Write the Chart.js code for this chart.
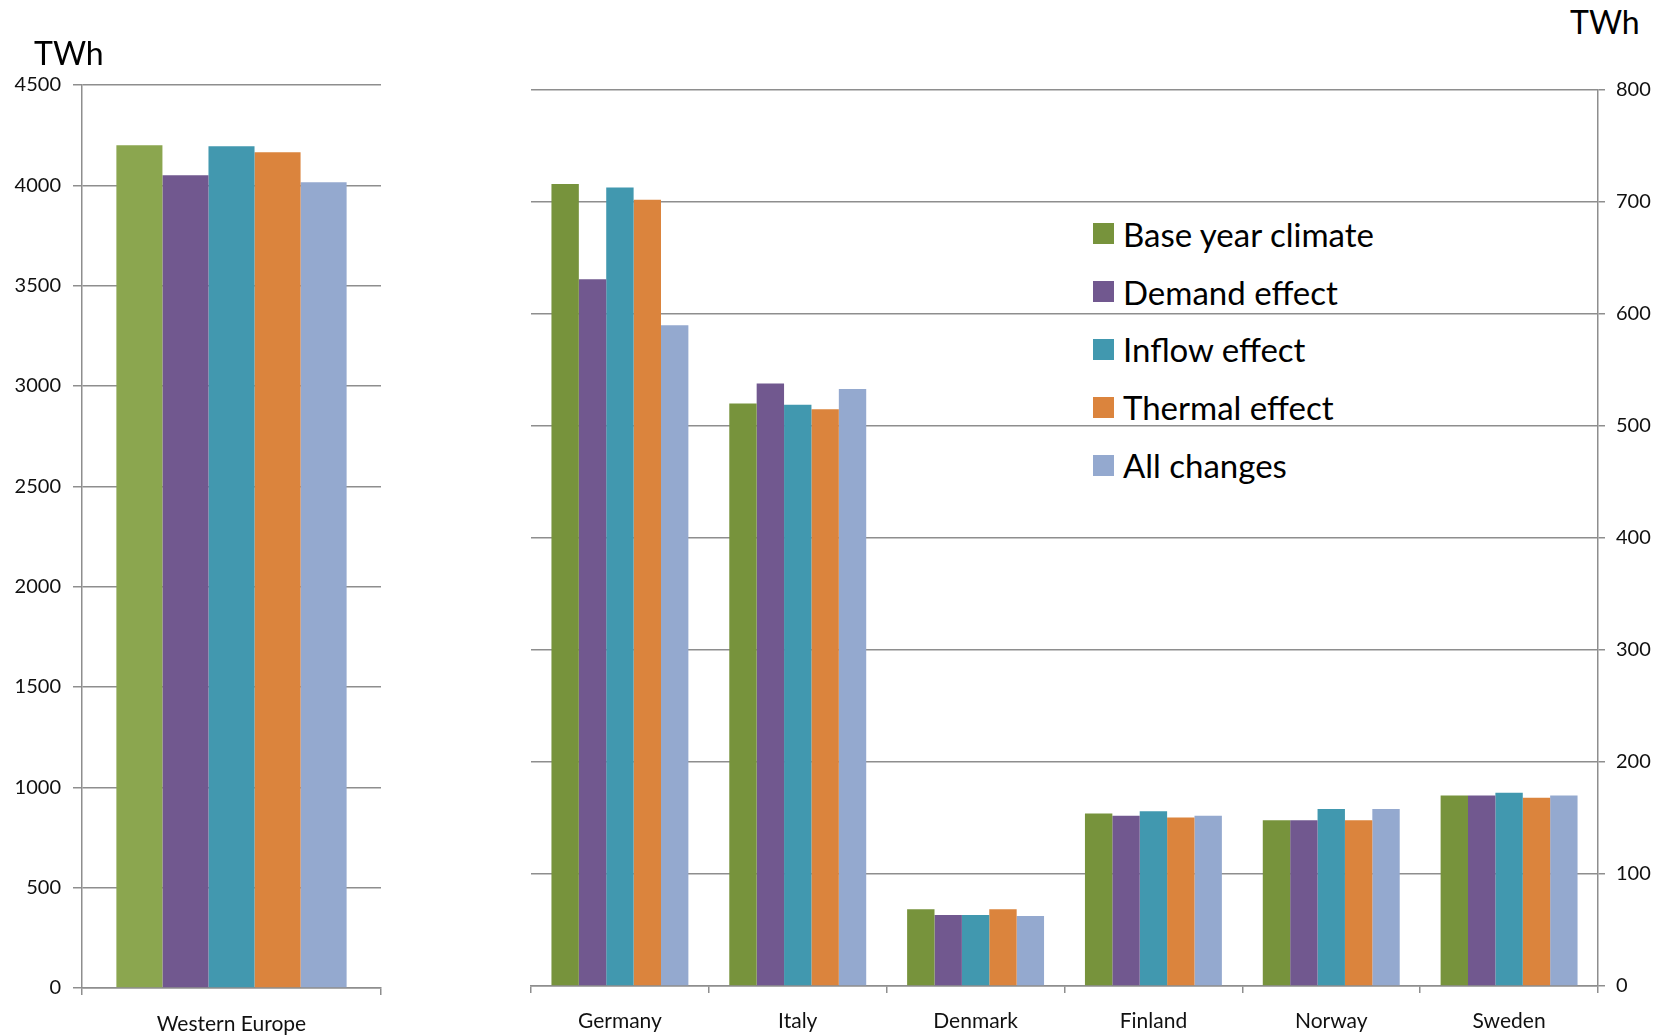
<!DOCTYPE html>
<html>
<head>
<meta charset="utf-8">
<script src="https://cdn.jsdelivr.net/npm/chart.js@4/dist/chart.umd.min.js"></script>
<style>
  body { margin: 0; background: #fff; width: 1671px; height: 1036px; position: relative; overflow: hidden; font-family: Lato, 'Noto Sans', sans-serif; }
  #leftBox { position: absolute; left: 0; top: 0; }
  #rightBox { position: absolute; left: 400px; top: 0; }
  .unit { position: absolute; font-size: 32px; color: #000; line-height: 1; }
  #legend { position: absolute; left: 1093px; top: 205px; }
  .item { display: flex; align-items: center; height: 57.8px; font-size: 33px; color: #000; white-space: nowrap; }
  .swatch { width: 21px; height: 21px; margin-right: 9px; }
</style>
</head>
<body>
<canvas id="leftChart" width="400" height="1036"></canvas>
<div class="unit" style="left:34px; top:37px;">TWh</div>
<div class="unit" style="left:1570px; top:6px;">TWh</div>
<div id="legend"></div>
<script>
const seriesNames = ['Base year climate', 'Demand effect', 'Inflow effect', 'Thermal effect', 'All changes'];

// left panel
const regionLabels = ['Western Europe'];
const westernEurope = [4200, 4050, 4195, 4165, 4015];
const leftTicks = [0, 500, 1000, 1500, 2000, 2500, 3000, 3500, 4000, 4500];

// right panel
const countries = ['Germany', 'Italy', 'Denmark', 'Finland', 'Norway', 'Sweden'];
const baseYear = [716, 520, 68.5, 154, 148, 170];
const demandEffect = [631, 538, 63.5, 152, 148, 170];
const inflowEffect = [713, 519, 63.5, 156, 158, 172.5];
const thermalEffect = [702, 515, 68.5, 150.5, 148, 168];
const allChanges = [590, 533, 62.5, 152, 158, 170];
const rightTicks = [0, 100, 200, 300, 400, 500, 600, 700, 800];

const leftColors = ['#8BA64F', '#71588F', '#4298AF', '#DB843D', '#94A9CF'];
const rightColors = ['#77933C', '#71588F', '#4198AF', '#DB843D', '#94A9CF'];

const gridColor = '#8e8e8e';
const tickFont = { family: 'Lato', size: 20 };
const catFont = { family: 'Lato', size: 21 };

// second canvas sits in its own positioned box
const rightBox = document.createElement('div');
rightBox.id = 'rightBox';
rightBox.innerHTML = '<canvas id="rightChart" width="1271" height="1036"></canvas>';
document.body.appendChild(rightBox);

new Chart(document.getElementById('leftChart'), {
    type: 'bar',
    data: {
        labels: regionLabels,
        datasets: seriesNames.map((name, i) => ({
            label: name,
            data: [westernEurope[i]],
            backgroundColor: leftColors[i],
            categoryPercentage: 0.77,
            barPercentage: 1
        }))
    },
    options: {
        responsive: false,
        animation: false,
        layout: { padding: { left: 0, right: 19, top: 85, bottom: 0 } },
        plugins: { legend: { display: false }, tooltip: { enabled: false } },
        scales: {
            x: {
                grid: { drawOnChartArea: false, offset: true, tickLength: 7, color: gridColor, lineWidth: 1.5 },
                border: { color: gridColor, width: 1.5 },
                ticks: { font: catFont, color: '#111', padding: 17 },
                afterFit: (scale) => { scale.height = 48; }
            },
            y: {
                min: 0,
                max: 4500,
                afterBuildTicks: (scale) => { scale.ticks = leftTicks.map(v => ({ value: v })); },
                grid: { color: gridColor, lineWidth: 1.5, tickLength: 9 },
                border: { color: gridColor, width: 1.5 },
                ticks: { font: tickFont, color: '#111', padding: 12, callback: (v) => String(v) },
                afterFit: (scale) => { scale.width = 82; }
            }
        }
    }
});

const rightSeries = [baseYear, demandEffect, inflowEffect, thermalEffect, allChanges];

new Chart(document.getElementById('rightChart'), {
    type: 'bar',
    data: {
        labels: countries,
        datasets: seriesNames.map((name, i) => ({
            label: name,
            data: rightSeries[i],
            backgroundColor: rightColors[i],
            categoryPercentage: 0.77,
            barPercentage: 1
        }))
    },
    options: {
        responsive: false,
        animation: false,
        layout: { padding: { left: 131, right: 0, top: 90, bottom: 0 } },
        plugins: { legend: { display: false }, tooltip: { enabled: false } },
        scales: {
            x: {
                grid: { drawOnChartArea: false, offset: true, tickLength: 7, color: gridColor, lineWidth: 1.5 },
                border: { color: gridColor, width: 1.5 },
                ticks: { font: catFont, color: '#111', padding: 16 },
                afterFit: (scale) => { scale.height = 50; }
            },
            y: {
                position: 'right',
                min: 0,
                max: 800,
                afterBuildTicks: (scale) => { scale.ticks = rightTicks.map(v => ({ value: v })); },
                grid: { color: gridColor, lineWidth: 1.5, tickLength: 7 },
                border: { color: gridColor, width: 1.5 },
                ticks: { font: tickFont, color: '#111', padding: 11, callback: (v) => String(v) },
                afterFit: (scale) => { scale.width = 73; }
            }
        }
    }
});

// legend
const legend = document.getElementById('legend');
seriesNames.forEach((name, i) => {
    legend.innerHTML += `<div class="item"><div class="swatch" style="background:${rightColors[i]}"></div>${name}</div>`;
});
</script>
</body>
</html>
